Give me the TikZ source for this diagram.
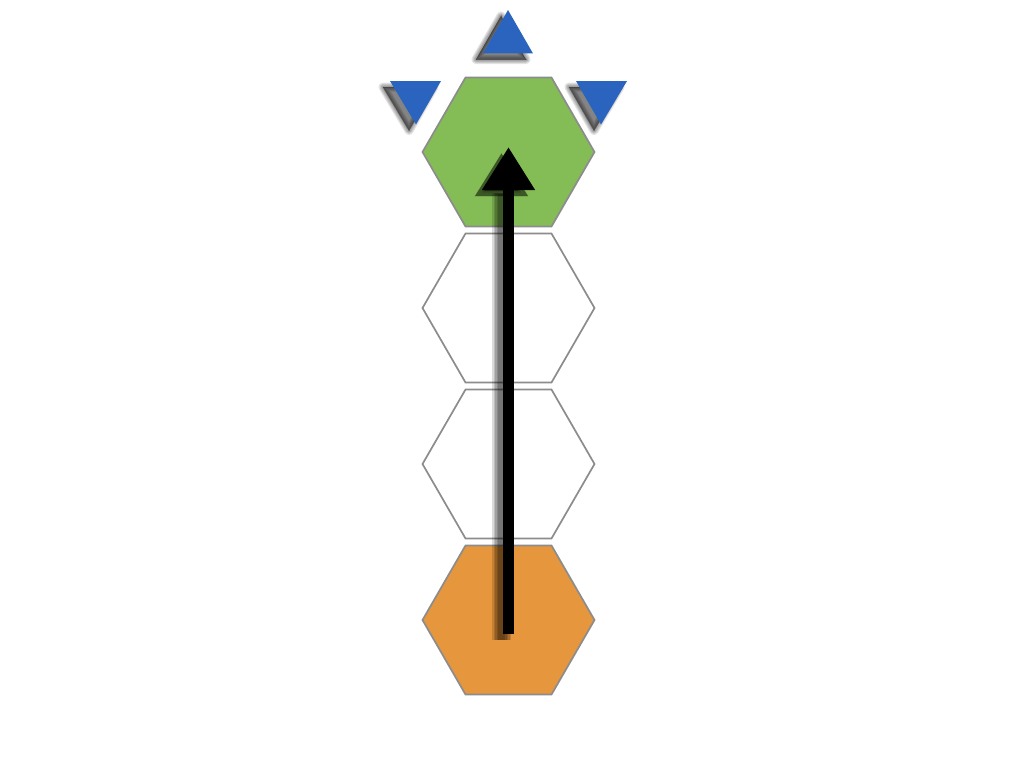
\documentclass[tikz,border=0pt]{standalone}
\usetikzlibrary{shapes.geometric,arrows.meta}
\definecolor{hexgreen}{RGB}{132,189,85}
\definecolor{hexorange}{RGB}{230,150,60}
\definecolor{triblue}{RGB}{42,100,190}
\definecolor{hexline}{RGB}{140,140,140}
\tikzset{
  hex/.style={regular polygon, regular polygon sides=6, minimum size=172pt,
    inner sep=0pt, outer sep=0pt, draw=hexline, line width=1.7pt},
  tri/.style={fill=triblue},
  trishade/.style={fill=black, draw=black, line join=round, line width=#1, opacity=0.1},
  arrowmain/.style={line width=11pt, black, -{Triangle[width=50pt,length=43pt]}},
  arrowshade/.style={line width=#1, black, opacity=0.14, line join=round, -{Triangle[width=50pt,length=43pt]}},
}
\def\triA{(483,53.5) -- (508,10) -- (533,53.5) -- cycle}
\def\triB{(390,81) -- (441,81) -- (416,124.5) -- cycle}
\def\triC{(576,81) -- (627,81) -- (601,124.5) -- cycle}
\begin{document}
\begin{tikzpicture}[x=1pt,y=-1pt]
\useasboundingbox[fill=white] (0,0) rectangle (1024,768);
% hexagons
\node[hex, fill=hexgreen] (h1) at (508.5,152) {};
\node[hex, fill=white] (h2) at (508.5,308) {};
\node[hex, fill=white] (h3) at (508.5,464) {};
\node[hex, fill=hexorange] (h4) at (508.5,620) {};
% triangle shadows
\begin{scope}[shift={(-7,6)}]
  \foreach \w in {9pt,7pt,5pt,3pt,1pt,0pt}{
    \filldraw[trishade=\w] \triA;
    \filldraw[trishade=\w] \triB;
    \filldraw[trishade=\w] \triC;
  }
\end{scope}
% triangles
\fill[tri] \triA;
\fill[tri] \triB;
\fill[tri] \triC;
% arrow
\coordinate (tail) at ([yshift=-14pt]h4.center);
\coordinate (tip) at ([yshift=5pt]h1.center);
\begin{scope}[transform canvas={xshift=-7pt, yshift=-6pt}]
  \foreach \w in {19pt,16pt,13pt,10pt,7pt}{
    \draw[arrowshade=\w] (tail) -- (tip);
  }
\end{scope}
\draw[arrowmain] (tail) -- (tip);
\end{tikzpicture}
\end{document}
